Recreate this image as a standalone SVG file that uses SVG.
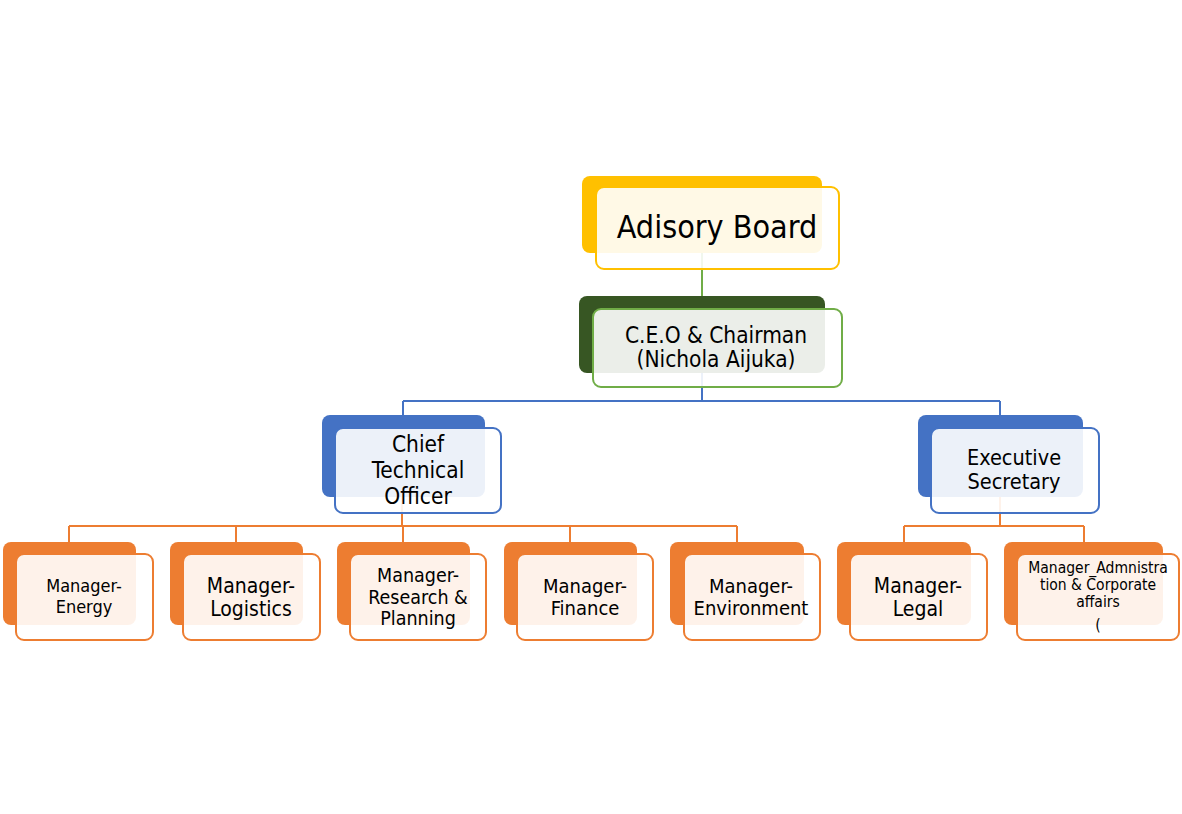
<svg xmlns="http://www.w3.org/2000/svg" width="1182" height="814" viewBox="0 0 1182 814">
<style>
text{font-family:"DejaVu Sans Condensed","DejaVu Sans","Liberation Sans",sans-serif;font-stretch:condensed;fill:#000;text-anchor:middle}
.front{fill:#fff;fill-opacity:0.9;stroke-width:2}
.c{fill:none;stroke-width:2}
.yb{fill:#FFC000}.ys{stroke:#FFC000}
.gb{fill:#375623}.gs{stroke:#70AD47}
.bb{fill:#4472C4}.bs{stroke:#4472C4}
.ob{fill:#ED7D31}.os{stroke:#ED7D31}
</style>
<rect width="1182" height="814" fill="#fff"/>
<g id="connectors">
<path class="c gs" d="M702 253V296"/>
<path class="c bs" d="M702 373V401M403 401H1000M403 401V415M1000 401V415"/>
<path class="c os" d="M402 497V526M69 526H737M69 526V542M236 526V542M403 526V542M570 526V542M737 526V542"/>
<path class="c os" d="M1000 497V526M904 526H1084M904 526V542M1084 526V542"/>
</g>
<g id="advisory-board">
<rect class="yb" x="582" y="176" width="240" height="77" rx="8"/>
<rect class="front ys" x="596" y="187" width="243" height="82" rx="8"/>
<text x="717" y="238" font-size="32">Adisory Board</text>
</g>
<g id="ceo">
<rect class="gb" x="579" y="296" width="246" height="77" rx="8"/>
<rect class="front gs" x="593" y="309" width="249" height="78" rx="8"/>
<text x="716" y="343" font-size="22.5">C.E.O &amp; Chairman</text>
<text x="716" y="367" font-size="22.5">(Nichola Aijuka)</text>
</g>
<g id="cto">
<rect class="bb" x="322" y="415" width="163" height="82" rx="8"/>
<rect class="front bs" x="335" y="428" width="166" height="85" rx="8"/>
<text x="418" y="452" font-size="22.5">Chief</text>
<text x="418" y="478" font-size="22.5">Technical</text>
<text x="418" y="504" font-size="22.5">Officer</text>
</g>
<g id="exec-secretary">
<rect class="bb" x="918" y="415" width="165" height="82" rx="8"/>
<rect class="front bs" x="931" y="428" width="168" height="85" rx="8"/>
<text x="1014" y="465" font-size="21.5">Executive</text>
<text x="1014" y="489" font-size="21.5">Secretary</text>
</g>
<g id="mgr-energy">
<rect class="ob" x="3" y="542" width="133" height="83" rx="8"/>
<rect class="front os" x="16" y="554" width="137" height="86" rx="8"/>
<text x="84" y="592" font-size="18">Manager-</text>
<text x="84" y="613" font-size="18">Energy</text>
</g>
<g id="mgr-logistics">
<rect class="ob" x="170" y="542" width="133" height="83" rx="8"/>
<rect class="front os" x="183" y="554" width="137" height="86" rx="8"/>
<text x="251" y="593" font-size="21">Manager-</text>
<text x="251" y="616" font-size="21">Logistics</text>
</g>
<g id="mgr-research">
<rect class="ob" x="337" y="542" width="133" height="83" rx="8"/>
<rect class="front os" x="350" y="554" width="136" height="86" rx="8"/>
<text x="418" y="582" font-size="19.5">Manager-</text>
<text x="418" y="603.5" font-size="19.5">Research &amp;</text>
<text x="418" y="625" font-size="19.5">Planning</text>
</g>
<g id="mgr-finance">
<rect class="ob" x="504" y="542" width="133" height="83" rx="8"/>
<rect class="front os" x="517" y="554" width="136" height="86" rx="8"/>
<text x="585" y="593" font-size="20">Manager-</text>
<text x="585" y="615" font-size="20">Finance</text>
</g>
<g id="mgr-environment">
<rect class="ob" x="670" y="542" width="134" height="83" rx="8"/>
<rect class="front os" x="684" y="554" width="136" height="86" rx="8"/>
<text x="751" y="593" font-size="20">Manager-</text>
<text x="751" y="615" font-size="20">Environment</text>
</g>
<g id="mgr-legal">
<rect class="ob" x="837" y="542" width="134" height="83" rx="8"/>
<rect class="front os" x="850" y="554" width="137" height="86" rx="8"/>
<text x="918" y="593" font-size="21">Manager-</text>
<text x="918" y="616" font-size="21">Legal</text>
</g>
<g id="mgr-admin">
<rect class="ob" x="1004" y="542" width="159" height="83" rx="8"/>
<rect class="front os" x="1017" y="554" width="162" height="86" rx="8"/>
<text x="1098" y="573" font-size="15.5">Manager_Admnistra</text>
<text x="1098" y="590" font-size="15.5">tion &amp; Corporate</text>
<text x="1098" y="607" font-size="15.5">affairs</text>
<text x="1098" y="630" font-size="15.5">(</text>
</g>
</svg>
